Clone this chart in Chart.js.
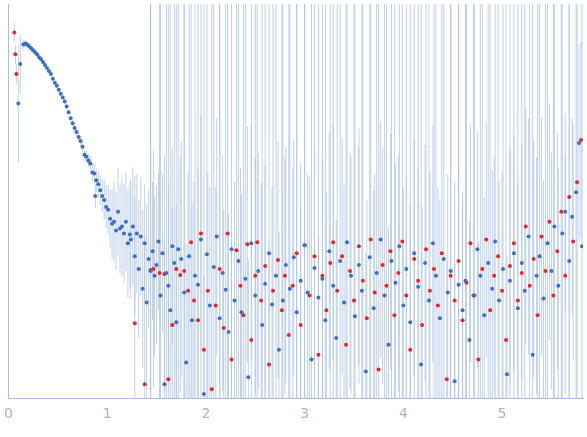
<!DOCTYPE html>
<html>
<head>
<meta charset="utf-8">
<script src="https://cdn.jsdelivr.net/npm/chart.js@4/dist/chart.umd.min.js"></script>
<style>
  html, body { margin: 0; padding: 0; background: #fff; }
  #wrap { width: 587px; height: 437px; }
</style>
</head>
<body>
<div id="wrap"><canvas id="canvas"></canvas></div>
<script>
// y values are log10 intensity (arbitrary offset), each entry [q, logI, err]
var xTicks = [0, 1, 2, 3, 4, 5];
var yTicks = [0, 1, 2, 3];

var bluePts = [
  [0.10,2.30,0.6],[0.12,2.70,0.3],[0.15,2.90,0.05],[0.17,2.91,0.04],[0.19,2.90,0.03],[0.21,2.88,0.03],[0.23,2.86,0.02],
  [0.25,2.84,0.02],[0.27,2.82,0.02],[0.29,2.80,0.02],[0.31,2.77,0.02],[0.33,2.75,0.02],[0.35,2.72,0.02],
  [0.37,2.69,0.02],[0.39,2.66,0.02],[0.41,2.63,0.02],[0.43,2.60,0.02],[0.45,2.55,0.02],[0.47,2.51,0.02],
  [0.49,2.48,0.02],[0.51,2.44,0.02],[0.53,2.40,0.02],[0.55,2.36,0.02],[0.57,2.32,0.03],[0.59,2.27,0.03],
  [0.61,2.21,0.03],[0.63,2.15,0.03],[0.65,2.10,0.03],[0.67,2.05,0.04],[0.69,2.01,0.04],[0.71,1.96,0.04],
  [0.73,1.92,0.05],[0.75,1.86,0.05],[0.77,1.78,0.06],[0.79,1.76,0.06],[0.81,1.72,0.07],[0.83,1.69,0.08],
  [0.85,1.60,0.09],[0.87,1.59,0.1],[0.88,1.36,0.12],[0.89,1.52,0.12],[0.91,1.48,0.14],[0.93,1.42,0.15],
  [0.95,1.36,0.17],[0.97,1.32,0.2],[0.99,1.25,0.22],[1.01,1.22,0.25],[1.03,1.13,0.3],[1.05,1.08,0.35],
  [1.07,1.10,0.4],[1.09,1.01,0.4],[1.11,1.20,0.45],[1.13,1.03,0.45],[1.15,1.05,0.5],[1.17,0.98,0.5],
  [1.19,1.10,0.5],[1.21,0.88,0.55],[1.23,0.97,0.55],
  [1.24,0.92,0.6],[1.26,1.05,0.6],[1.28,0.75,0.6],[1.30,0.98,0.6],[1.32,0.62,0.7],[1.34,0.95,0.6],
  [1.36,0.42,0.8],[1.38,0.88,0.6],[1.40,0.28,1.0],[1.42,0.72,0.7],[1.44,0.60,3],[1.46,0.80,0.7],
  [1.48,0.55,0.8],[1.50,0.66,0.8],[1.52,0.90,0.7],[1.54,0.35,4],[1.56,0.78,0.8],[1.58,-0.55,1.5],
  [1.60,0.58,4],[1.62,0.45,1.0],[1.64,0.20,4],[1.66,0.85,1.0],[1.68,0.68,4],[1.70,0.08,1.2],
  [1.72,0.82,4],[1.75,0.72,1.2],[1.78,0.38,4],[1.80,-0.33,1.2],[1.83,0.75,4],[1.86,0.10,1.2],
  [1.89,0.55,4],[1.92,0.46,1.2],[1.95,0.92,4],[1.98,-0.65,1.2],[2.01,0.77,4],[2.04,0.25,1.2],
  [2.08,0.64,4],[2.11,0.95,1.2],[2.14,0.12,4],[2.17,0.58,1.2],[2.20,0.41,4],[2.23,-0.02,1.2],
  [2.26,0.82,4],[2.29,0.30,1.2],[2.33,0.70,4],[2.36,0.18,1.2],[2.40,0.52,4],[2.43,-0.48,1.2],
  [2.46,0.88,1.2],[2.50,0.35,4],[2.53,0.60,1.2],[2.57,0.05,4],[2.60,0.47,1.2],[2.64,0.78,4],
  [2.67,0.26,1.2],[2.71,0.55,4],[2.74,-0.20,1.2],[2.78,0.30,4],[2.81,0.66,1.2],[2.85,0.42,4],
  [2.89,0.74,1.2],[2.92,0.18,4],[2.96,0.50,1.2],[3.00,0.86,4],[3.03,0.38,1.2],[3.07,-0.30,4],
  [3.10,0.63,1.2],[3.14,0.33,4],[3.18,0.52,1.2],[3.21,0.10,4],[3.25,0.80,1.2],[3.29,0.45,4],
  [3.32,-0.08,1.2],[3.36,0.70,4],[3.40,0.28,1.2],[3.43,0.89,4],[3.47,0.55,1.2],[3.51,0.14,4],
  [3.55,0.66,1.2],[3.58,0.40,4],[3.62,-0.42,1.2],[3.66,0.74,4],[3.70,0.22,1.2],[3.73,0.58,4],
  [3.77,0.92,1.2],[3.81,0.35,4],[3.85,-0.15,1.2],[3.88,0.70,4],[3.92,0.48,1.2],[3.96,0.85,4],
  [4.00,0.25,1.2],[4.03,0.62,4],[4.07,0.08,1.2],[4.11,0.78,4],[4.15,0.44,1.2],[4.18,-0.35,4],
  [4.22,0.68,1.2],[4.26,0.30,4],[4.30,0.88,1.2],[4.33,0.55,4],[4.37,0.12,1.2],[4.41,0.72,4],
  [4.45,0.38,1.2],[4.48,0.60,4],[4.52,-0.52,1.2],[4.56,0.46,4],[4.60,0.20,1.2],[4.63,0.50,4],
  [4.67,-0.10,1.2],[4.71,0.35,4],[4.75,0.82,1.2],[4.78,0.55,4],[4.82,0.15,1.2],[4.86,0.68,4],
  [4.90,0.42,1.2],[4.93,0.90,4],[4.97,0.30,1.2],[5.01,0.62,4],[5.05,-0.45,1.2],[5.08,0.50,4],
  [5.12,0.78,1.2],[5.16,0.22,4],[5.20,0.68,1.2],[5.23,0.40,4],[5.27,0.95,1.2],[5.31,-0.25,4],
  [5.35,0.55,1.2],[5.38,0.75,4],[5.42,0.32,1.2],[5.46,0.88,4],[5.50,0.60,1.2],[5.53,1.05,4],
  [5.57,0.45,1.2],[5.61,0.98,4],[5.64,1.20,1.0],[5.68,0.70,4],[5.71,1.15,1.0],[5.75,1.40,4],
  [5.78,1.90,1.0],[5.81,0.85,4]
];

var redPts = [
  [0.06,3.02,0.1],[0.07,2.80,0.1],[0.08,2.60,0.1],
  [1.28,0.07,1.5],[1.38,-0.55,1.5],[1.44,0.61,4],[1.47,0.62,1.2],[1.53,0.58,4],[1.58,0.57,1.2],
  [1.62,-0.50,4],[1.66,0.05,1.2],[1.70,0.62,4],[1.74,0.56,1.2],[1.78,0.60,4],[1.82,0.40,1.2],
  [1.85,0.89,4],[1.88,0.30,1.2],[1.92,0.10,4],[1.95,0.98,1.2],[1.98,-0.20,4],[2.02,0.40,1.2],
  [2.06,-0.60,4],[2.10,0.25,1.2],[2.14,0.62,4],[2.18,0.02,1.2],[2.22,0.98,4],[2.26,-0.30,1.2],
  [2.31,0.81,4],[2.35,0.45,1.2],[2.38,0.15,4],[2.42,0.87,1.2],[2.46,-0.10,4],[2.50,0.55,1.2],
  [2.52,0.89,4],[2.56,0.30,1.2],[2.60,0.65,4],[2.64,-0.35,1.2],[2.68,0.40,4],[2.73,0.71,1.2],
  [2.77,0.20,4],[2.80,0.55,1.2],[2.84,-0.05,4],[2.88,0.45,1.2],[2.92,0.78,4],[2.96,0.05,1.2],
  [3.00,0.86,4],[3.05,0.35,1.2],[3.10,0.75,4],[3.14,-0.25,1.2],[3.18,0.55,4],[3.22,0.20,1.2],
  [3.26,0.68,4],[3.29,0.89,1.2],[3.33,0.40,4],[3.38,0.75,1.2],[3.42,-0.15,4],[3.46,0.60,1.2],
  [3.50,0.30,4],[3.55,0.85,1.2],[3.59,0.50,4],[3.63,0.12,1.2],[3.67,0.92,4],[3.71,0.38,1.2],
  [3.75,-0.40,4],[3.79,0.66,1.2],[3.83,0.45,4],[3.87,0.80,1.2],[3.91,0.15,4],[3.95,0.58,1.2],
  [3.99,0.90,4],[4.03,0.35,1.2],[4.07,-0.20,4],[4.11,0.72,1.2],[4.15,0.50,4],[4.19,0.05,1.2],
  [4.23,0.82,4],[4.27,0.40,1.2],[4.31,0.62,4],[4.35,0.25,1.2],[4.39,0.78,4],[4.44,-0.50,1.2],
  [4.48,0.55,4],[4.52,0.30,1.2],[4.56,0.70,4],[4.60,0.10,1.2],[4.64,0.48,4],[4.68,0.88,1.2],
  [4.72,0.35,4],[4.76,-0.30,1.2],[4.80,0.62,4],[4.84,0.92,1.2],[4.88,0.20,4],[4.92,0.55,1.2],
  [4.96,0.75,4],[5.00,0.40,1.2],[5.04,-0.10,4],[5.08,0.65,1.2],[5.12,0.88,4],[5.16,0.30,1.2],
  [5.20,0.58,4],[5.24,1.05,1.2],[5.28,0.45,4],[5.32,0.72,1.2],[5.36,0.15,4],[5.40,0.95,1.2],
  [5.44,0.60,4],[5.48,1.10,1.2],[5.52,0.35,4],[5.56,0.80,1.2],[5.60,1.20,4],[5.64,0.55,1.2],
  [5.68,1.35,4],[5.72,0.90,1.2],[5.76,1.50,4],[5.80,1.93,1.0]
];

var errColor = 'rgba(170,192,228,0.75)';
var axisColor = '#a9bde0';

var errorBars = {
  id: 'errorBars',
  beforeDatasetsDraw: function (chart) {
    var ctx = chart.ctx, xs = chart.scales.x, ys = chart.scales.y, a = chart.chartArea;
    ctx.save();
    ctx.beginPath();
    ctx.rect(a.left, a.top, a.right - a.left, a.bottom - a.top);
    ctx.clip();
    ctx.strokeStyle = errColor;
    ctx.lineWidth = 1;
    [bluePts, redPts].forEach(function (pts) {
      pts.forEach(function (p) {
        var px = xs.getPixelForValue(p[0]);
        ctx.beginPath();
        ctx.moveTo(px, ys.getPixelForValue(p[1] - p[2]));
        ctx.lineTo(px, ys.getPixelForValue(p[1] + p[2]));
        ctx.stroke();
      });
    });
    ctx.restore();
  }
};

function toXY(pts) {
  return pts.map(function (p) { return { x: p[0], y: p[1] }; });
}

window.onload = function () {
  var ctx = document.getElementById('canvas').getContext('2d');
  new Chart(ctx, {
    type: 'scatter',
    data: {
      datasets: [
        { data: toXY(bluePts), backgroundColor: '#3e6fc0', borderWidth: 0, pointRadius: 2 },
        { data: toXY(redPts), backgroundColor: '#e8262a', borderWidth: 0, pointRadius: 2 }
      ]
    },
    options: {
      responsive: true,
      maintainAspectRatio: false,
      animation: false,
      layout: { padding: 0 },
      plugins: { legend: { display: false }, tooltip: { enabled: false } },
      scales: {
        x: {
          type: 'linear', min: 0, max: 5.82,
          afterBuildTicks: function (s) { s.ticks = xTicks.map(function (v) { return { value: v }; }); },
          afterFit: function (s) { s.height = 39; },
          ticks: { color: '#a0b4dc', font: { family: 'DejaVu Sans', size: 14 }, padding: 4 },
          grid: { display: false, drawTicks: true, tickLength: 4, color: axisColor },
          border: { color: axisColor }
        },
        y: {
          type: 'linear', min: -0.69, max: 3.31,
          afterBuildTicks: function (s) { s.ticks = yTicks.map(function (v) { return { value: v }; }); },
          afterFit: function (s) { s.width = 4; },
          ticks: { display: false },
          grid: { display: false },
          border: { color: axisColor }
        }
      }
    },
    plugins: [errorBars]
  });
};
</script>
</body>
</html>
